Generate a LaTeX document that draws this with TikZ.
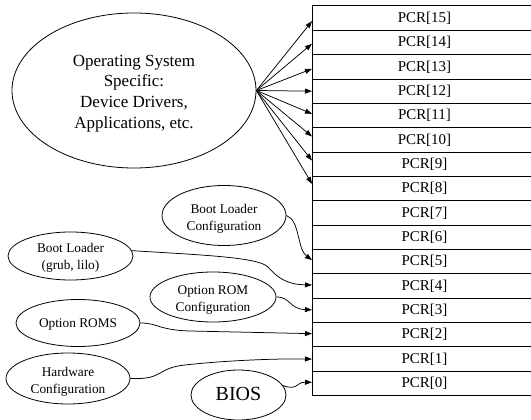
\documentclass[tikz,border=0pt]{standalone}
\usepackage{fontspec}
\setmainfont{Liberation Serif}
\usetikzlibrary{shapes.geometric,arrows.meta,calc}
\begin{document}
\begin{tikzpicture}[x=1pt,y=-1pt,
  ell/.style={draw, ellipse, inner sep=0pt, line width=0.8pt},
  tx/.style={align=center, inner sep=0pt, font=\fontsize{13.3}{16.7}\selectfont},
  pcrbox/.style={draw, line width=0.9pt, anchor=north west, minimum width=224pt,
     minimum height=24.35pt, inner sep=0pt, font=\fontsize{15}{18}\selectfont},
  arr/.style={-{Triangle[length=7pt,width=5pt]}, line width=0.75pt}]
\clip (0,0) rectangle (531,420);
\fill[white] (0,0) rectangle (531,420);
% PCR table
\foreach \i in {0,...,15}{
  \pgfmathtruncatemacro\k{15-\i}
  \node[pcrbox] (p\k) at (312,{5.5+24.35*\i}) {\raisebox{-1pt}{PCR[\k]}};
}
% ellipses
\node[ell, minimum width=244pt, minimum height=155pt,
  label={[tx, yshift=-3pt, font=\fontsize{17}{20.7}\selectfont]center:Operating System\\Specific:\\ Device Drivers,\\Applications, etc.}]
  (os) at (134,90.5) {};
\node[ell, minimum width=124pt, minimum height=60pt,
  label={[tx, yshift=-3.5pt]center:Boot Loader\\Configuration}] (blc) at (224,215.5) {};
\node[ell, minimum width=125pt, minimum height=48pt,
  label={[tx, yshift=-2pt]center:Boot Loader\\(grub, lilo)}] (blg) at (70.5,256) {};
\node[ell, minimum width=126pt, minimum height=50pt,
  label={[tx, yshift=-3pt]center:Option ROM\\Configuration}] (orc) at (213,297) {};
\node[ell, minimum width=124pt, minimum height=47pt,
  label={[tx, yshift=-1.5pt]center:Option ROMS}] (orm) at (78,323) {};
\node[ell, minimum width=124pt, minimum height=51pt,
  label={[tx, yshift=-3.5pt]center:Hardware\\Configuration}] (hw) at (68,378.5) {};
\node[ell, minimum width=95pt, minimum height=50pt,
  label={[tx, yshift=1pt, font=\fontsize{20}{24}\selectfont]center:BIOS}] (bios) at (238.5,395) {};
% OS arrows
\foreach \k/\d in {15/3,14/1.3,13/2,12/0,11/-1.7,10/-3.4,9/-3.7,8/-4.7}{
  \draw[arr] (os.east) -- ($(p\k.west)+(0,\d)$);
}
% curved connectors
\draw[arr] (blc.east) .. controls (300,220) and (297,249) .. ($(p5.west)+(0,-1.5)$);
\draw[arr] (blg.5) .. controls (200,255) and (258,257) .. (268,267)
   .. controls (277,277) and (286,284.5) .. ($(p4.west)+(0,-1)$);
\draw[arr] (orc.east) .. controls (291,297) and (289,309) .. ($(p3.west)+(0,-0.5)$);
\draw[arr] (orm.east) .. controls (158,323) and (158,330) .. (190,331)
   -- ($(p2.west)+(0,-1)$);
\draw[arr] (hw.east) .. controls (164,380) and (156,368) .. (185,365)
   .. controls (230,360) and (280,358.6) .. (p1.west);
\draw[arr] (bios.12) .. controls (298,391) and (296,382) .. ($(p0.west)+(0,-1)$);
\end{tikzpicture}
\end{document}
